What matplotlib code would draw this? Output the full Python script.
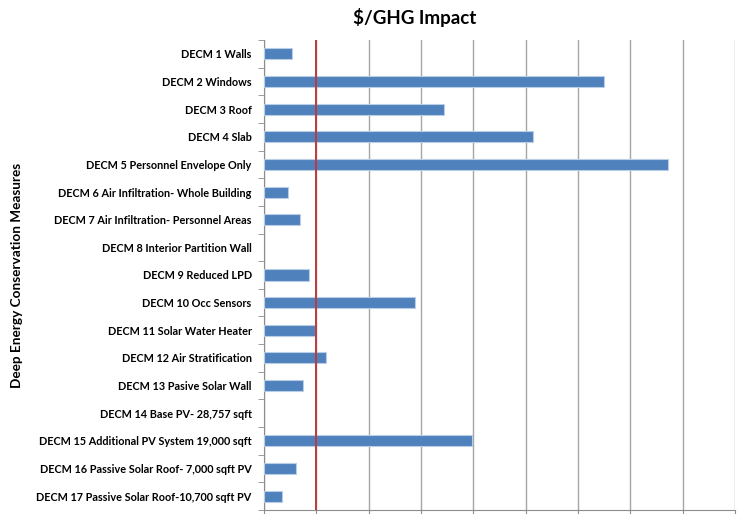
import matplotlib.pyplot as plt
import numpy as np

measures = [
    "DECM 1 Walls",
    "DECM 2 Windows",
    "DECM 3 Roof",
    "DECM 4 Slab",
    "DECM 5 Personnel Envelope Only",
    "DECM 6 Air Infiltration- Whole Building",
    "DECM 7 Air Infiltration- Personnel Areas",
    "DECM 8 Interior Partition Wall",
    "DECM 9 Reduced LPD",
    "DECM 10 Occ Sensors",
    "DECM 11 Solar Water Heater",
    "DECM 12 Air Stratification",
    "DECM 13 Pasive Solar Wall",
    "DECM 14 Base PV- 28,757 sqft",
    "DECM 15 Additional PV System 19,000 sqft",
    "DECM 16 Passive Solar Roof- 7,000 sqft PV",
    "DECM 17 Passive Solar Roof-10,700 sqft PV",
]
impact = [0.53, 6.49, 3.44, 5.15, 7.73, 0.45, 0.69, 0.0, 0.86, 2.88,
          0.97, 1.18, 0.74, 0.0, 3.97, 0.61, 0.34]
threshold = 1.0

plt.rcParams['font.family'] = ['Lato', 'DejaVu Sans']

fig = plt.figure(figsize=(7.4, 5.14), dpi=100)
ax = fig.add_axes([0.357, 0.008, 0.636, 0.914])

y = np.arange(len(measures))
edges = ["#B9CDE5" if v > 0 else "none" for v in impact]
ax.barh(y, impact, height=0.4, color="#4F81BD", edgecolor=edges, linewidth=0.8, zorder=3)
ax.axvline(threshold, color="#C0393B", linewidth=1.4, zorder=4)

ax.set_xlim(0, 9)
ax.set_ylim(len(measures) - 0.5, -0.5)
ax.set_xticks(np.arange(0, 10))
ax.set_xticklabels([])
ax.xaxis.grid(True, color="#A6A6A6", linewidth=1, zorder=0)

ax.set_yticks(y)
ax.set_yticklabels(measures, fontsize=7.8, fontweight="bold")
ax.set_yticks(np.arange(-0.5, len(measures)), minor=True)
ax.tick_params(axis="y", which="major", length=0, pad=9)
ax.tick_params(axis="y", which="minor", length=4, color="#8C8C8C", direction="out")
ax.tick_params(axis="x", length=4, color="#8C8C8C", direction="out")

for s in ["top", "right"]:
    ax.spines[s].set_visible(False)
for s in ["left", "bottom"]:
    ax.spines[s].set_color("#8C8C8C")

ax.set_ylabel("Deep Energy Conservation Measures", fontsize=9.8, fontweight="bold")
ax.yaxis.set_label_coords(-0.512, 0.5)
fig.suptitle(r"\$/GHG Impact", x=0.561, y=0.985, fontsize=13.5, fontweight="bold")

fig.savefig("out.png", dpi=100)
